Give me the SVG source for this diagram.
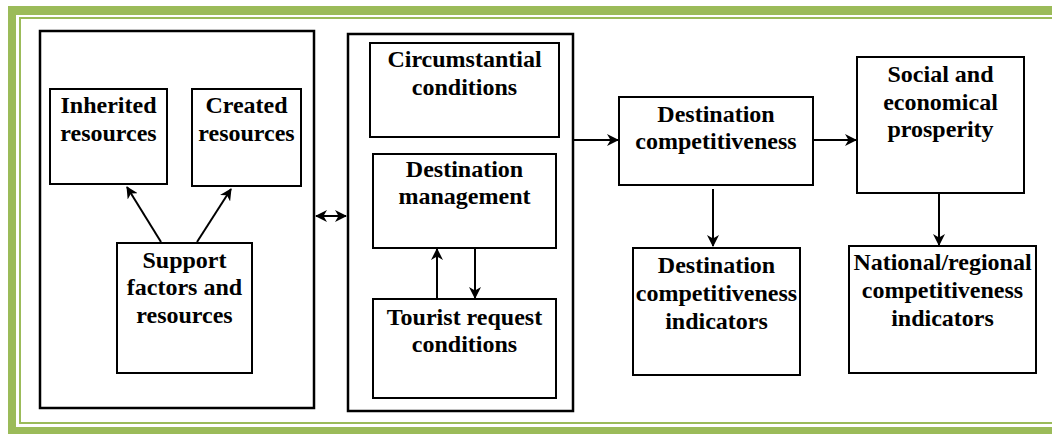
<svg xmlns="http://www.w3.org/2000/svg" width="1052" height="434" viewBox="0 0 1052 434">
<style>
.frame{fill:#9bbb59}
.outer{fill:#fff;stroke:#000;stroke-width:2.5}
.box{fill:#fff;stroke:#000;stroke-width:2}
.t{font-family:'Liberation Serif','DejaVu Serif',serif;font-weight:700;font-size:24px;fill:#000;text-anchor:middle}
.c{stroke:#000;stroke-width:2;fill:none;marker-end:url(#ah)}
</style>
<defs>
<marker id="ah" viewBox="0 0 12 12" refX="11" refY="6" markerWidth="12" markerHeight="12" markerUnits="userSpaceOnUse" orient="auto-start-reverse">
<path d="M0,0 L12,6 L0,12 L3.5,6 z" fill="#000"/>
</marker>
</defs>
<rect width="1052" height="434" fill="#fff"/>
<g id="frame">
<rect class="frame" x="8" y="6" width="1044" height="9"/>
<rect class="frame" x="8" y="6" width="8" height="428"/>
<rect class="frame" x="8" y="427" width="1044" height="7"/>
<rect class="frame" x="19" y="17" width="1033" height="2"/>
<rect class="frame" x="19" y="17" width="2" height="407"/>
<rect class="frame" x="19" y="422" width="1033" height="2"/>
</g>
<g id="left-group"><rect class="outer" x="40" y="31" width="274" height="377"/></g>
<g id="mid-group"><rect class="outer" x="348" y="34" width="225" height="377"/></g>
<g font-family="Liberation Serif, serif">
<g id="inherited"><rect class="box" x="50" y="89" width="117" height="95"/>
<text class="t" x="108.5" y="113">Inherited</text><text class="t" x="108.5" y="141">resources</text></g>
<g id="created"><rect class="box" x="192" y="89" width="109" height="97"/>
<text class="t" x="246.5" y="113">Created</text><text class="t" x="246.5" y="141">resources</text></g>
<g id="support"><rect class="box" x="117" y="243" width="135" height="130"/>
<text class="t" x="184.5" y="268">Support</text><text class="t" x="184.5" y="295">factors and</text><text class="t" x="184.5" y="323">resources</text></g>
<g id="circumstantial"><rect class="box" x="370" y="43" width="189" height="94"/>
<text class="t" x="464.5" y="67">Circumstantial</text><text class="t" x="464.5" y="95">conditions</text></g>
<g id="management"><rect class="box" x="373" y="154" width="183" height="94"/>
<text class="t" x="464.5" y="177">Destination</text><text class="t" x="464.5" y="204">management</text></g>
<g id="tourist"><rect class="box" x="373" y="299" width="183" height="99"/>
<text class="t" x="464.5" y="325">Tourist request</text><text class="t" x="464.5" y="352">conditions</text></g>
<g id="competitiveness"><rect class="box" x="619" y="97" width="194" height="88"/>
<text class="t" x="716" y="122">Destination</text><text class="t" x="716" y="149">competitiveness</text></g>
<g id="indicators"><rect class="box" x="633" y="248" width="167" height="127"/>
<text class="t" x="716.5" y="273">Destination</text><text class="t" x="716.5" y="301">competitiveness</text><text class="t" x="716.5" y="329">indicators</text></g>
<g id="prosperity"><rect class="box" x="857" y="57" width="167" height="136"/>
<text class="t" x="940.5" y="82">Social and</text><text class="t" x="940.5" y="110">economical</text><text class="t" x="940.5" y="137">prosperity</text></g>
<g id="national"><rect class="box" x="849" y="246" width="187" height="127"/>
<text class="t" x="942.5" y="270">National/regional</text><text class="t" x="942.5" y="298">competitiveness</text><text class="t" x="942.5" y="326">indicators</text></g>
</g>
<g id="connectors">
<path class="c" d="M161,242 L127,187"/>
<path class="c" d="M197,242 L231,189"/>
<path class="c" d="M316,216 L346,216" style="marker-start:url(#ah)"/>
<path class="c" d="M437,299 L437,249"/>
<path class="c" d="M475,248 L475,298"/>
<path class="c" d="M574,140 L618,140"/>
<path class="c" d="M814,140 L856,140"/>
<path class="c" d="M713,189 L713,246"/>
<path class="c" d="M939,194 L939,245"/>
</g>
</svg>
